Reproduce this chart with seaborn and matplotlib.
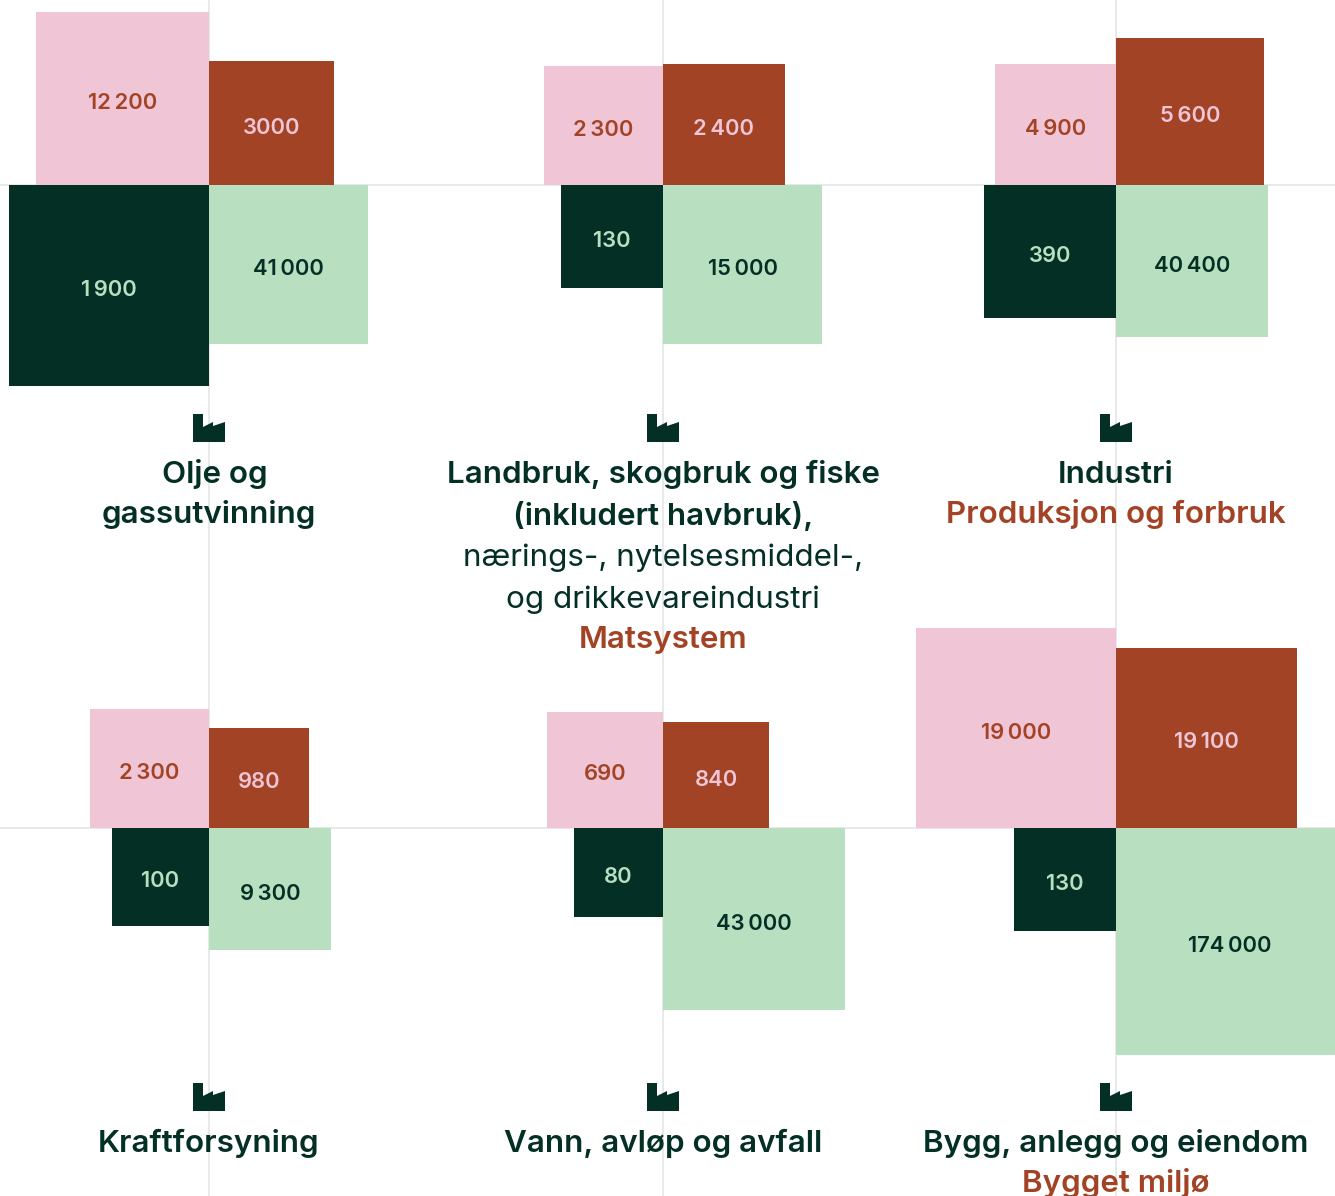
import matplotlib.pyplot as plt
import seaborn as sns

FONT = ['Inter', 'DejaVu Sans']
PINK = '#F0C5D6'
BROWN = '#A34325'
DARK = '#032F25'
GREEN = '#B8DFC0'
LINE = '#E4E6E5'

W, H = 1335, 1196

# square sides, one per sector
pink_side = [173.5, 119, 121, 119, 116, 199.8]
brown_side = [124.5, 121.5, 147.5, 100, 106, 180.5]
dark_side = [200.5, 102.5, 132.5, 97.5, 89, 102.5]
green_side = [159.2, 159.2, 152, 122, 182, 227]

pink_labels = ['12\u2009200', '2\u2009300', '4\u2009900', '2\u2009300', '690', '19\u2009000']
brown_labels = ['3000', '2\u2009400', '5\u2009600', '980', '840', '19\u2009100']
dark_labels = ['1\u2009900', '130', '390', '100', '80', '130']
green_labels = ['41\u2009000', '15\u2009000', '40\u2009400', '9\u2009300', '43\u2009000', '174\u2009000']

series = ['pink', 'brown', 'dark', 'green']

# sector centres on the page
center_x = [209, 663, 1116, 209, 663, 1116]
center_y = [185.3, 185.3, 185.3, 828, 828, 828]

# (text, style, x, baseline y)
titles = [
    ('Olje og', 'head', 215, 483),
    ('gassutvinning', 'head', 209, 523),
    ('Landbruk, skogbruk og fiske', 'head', 663, 483),
    ('(inkludert havbruk),', 'head', 663, 525),
    ('nærings-, nytelsesmiddel-,', 'body', 663, 566),
    ('og drikkevareindustri', 'body', 663, 608),
    ('Matsystem', 'tag', 663, 648),
    ('Industri', 'head', 1116, 483),
    ('Produksjon og forbruk', 'tag', 1116, 523),
    ('Kraftforsyning', 'head', 209, 1152),
    ('Vann, avløp og avfall', 'head', 663, 1152),
    ('Bygg, anlegg og eiendom', 'head', 1116, 1152),
    ('Bygget miljø', 'tag', 1116, 1192),
]
styles = {
    'head': dict(color=DARK, fontweight='semibold'),
    'body': dict(color=DARK, fontweight='normal'),
    'tag': dict(color=BROWN, fontweight='semibold'),
}

sns.set_theme(style='white')
plt.rcParams['font.family'] = FONT

fig = plt.figure(figsize=(W / 100, H / 100), dpi=100, facecolor='white')

# page layer: grid lines, factory icons and the sector names, in pixels
page = fig.add_axes([0, 0, 1, 1])
page.set_xlim(0, W)
page.set_ylim(H, 0)
page.axis('off')

for x in sorted(set(center_x)):
    page.axvline(x, color=LINE, lw=1.2, zorder=1)
for y in sorted(set(center_y)):
    page.axhline(y, color=LINE, lw=1.2, zorder=1)

factory_x = [-16, -6, -6, 4, 4, 16, 16, -16]
factory_y = [-14, -14, -1, -6, -2, -6, 14, 14]
for x, y in zip(center_x, [428, 428, 428, 1097, 1097, 1097]):
    page.fill([x + v for v in factory_x], [y + v for v in factory_y],
              color=DARK, lw=0, zorder=3)

for text, style, x, y in titles:
    page.text(x, y, text, ha='center', va='baseline', fontsize=22.6, zorder=4, **styles[style])

# one transparent axes per sector with its origin on the crossing, 1 unit = 1 px
for i in range(6):
    ax = fig.add_axes([0, 0, 1, 1], facecolor='none')
    sides = [pink_side[i], brown_side[i], dark_side[i], green_side[i]]
    labels = [pink_labels[i], brown_labels[i], dark_labels[i], green_labels[i]]
    heights = [sides[0], sides[1], -sides[2], -sides[3]]
    sns.barplot(
        x=series, y=heights, hue=series,
        palette=[PINK, BROWN, DARK, GREEN], saturation=1,
        legend=False, linewidth=0, ax=ax,
    )
    for bar, side, label, colour, to_left in zip(
        ax.patches, sides, labels, [BROWN, PINK, GREEN, DARK], [True, False, True, False]
    ):
        bar.set_x(-side if to_left else 0)
        bar.set_width(side)
        cx = bar.get_x() + side / 2
        cy = bar.get_y() + bar.get_height() / 2
        ax.text(cx, cy - 2.5, label, ha='center', va='center_baseline',
                color=colour, fontsize=15.8, fontweight='semibold')
    ax.set_xlim(-center_x[i], W - center_x[i])
    ax.set_ylim(center_y[i] - H, center_y[i])
    ax.axis('off')

plt.savefig('out.png', dpi=100)
